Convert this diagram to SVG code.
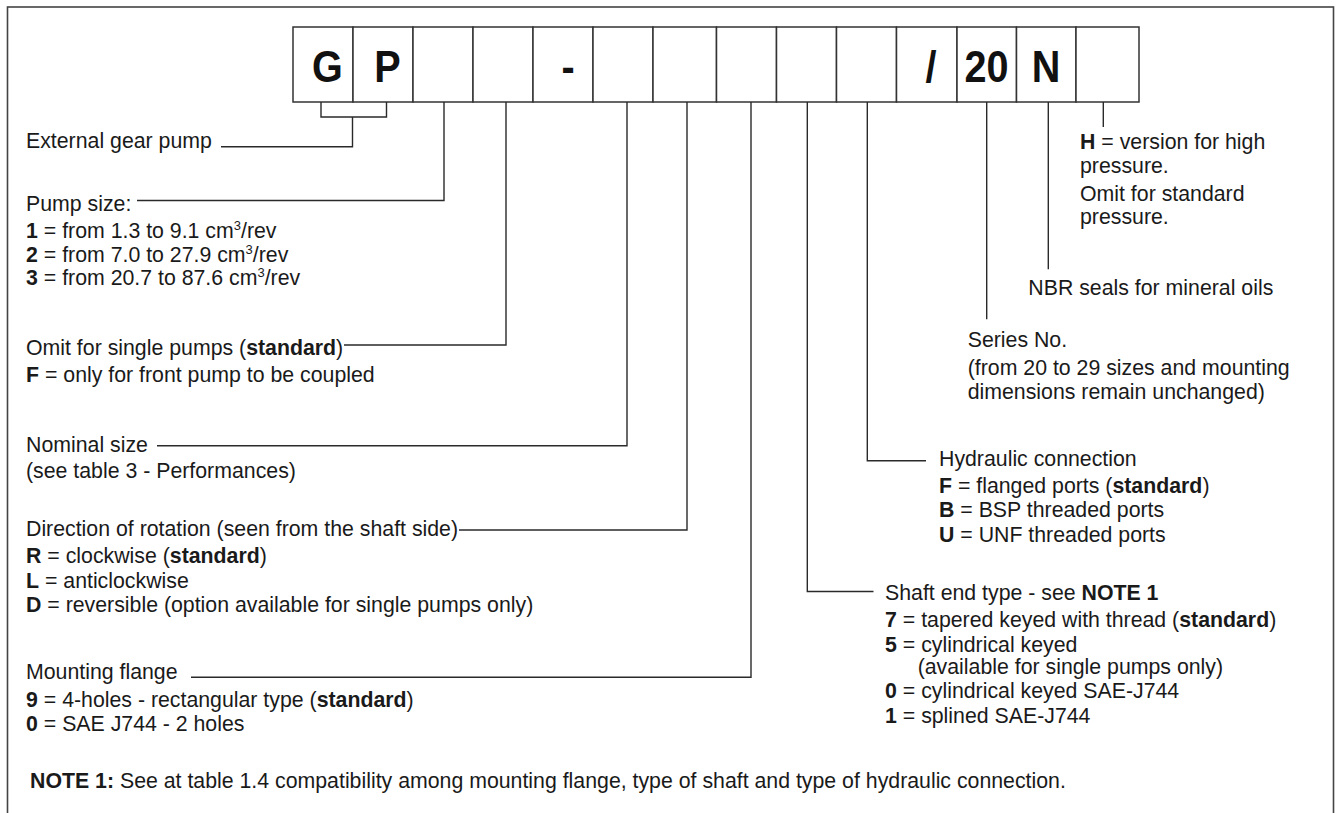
<svg xmlns="http://www.w3.org/2000/svg" width="1344" height="813" viewBox="0 0 1344 813">
<style>
.t{font-family:"Liberation Sans",Arial,sans-serif;font-size:21.3px;fill:#1a1a1a}
.b{font-weight:bold}
.big{font-family:"Liberation Sans",Arial,sans-serif;font-size:44px;font-weight:bold;fill:#111;text-anchor:middle}
.box{fill:#fff;stroke:#333;stroke-width:1.5}
.ln{fill:none;stroke:#2a2a2a;stroke-width:1.4}
.sup{font-size:13px}
</style>
<rect width="1344" height="813" fill="#fff"/>
<rect x="7.5" y="7" width="1326" height="840" fill="none" stroke="#444" stroke-width="1.6"/>

<g id="code">
<rect class="box" x="293" y="27" width="60" height="75"/>
<rect class="box" x="353" y="27" width="60" height="75"/>
<rect class="box" x="413" y="27" width="60" height="75"/>
<rect class="box" x="473" y="27" width="60" height="75"/>
<rect class="box" x="533" y="27" width="60" height="75"/>
<rect class="box" x="593" y="27" width="60" height="75"/>
<rect class="box" x="653" y="27" width="63.5" height="75"/>
<rect class="box" x="716.5" y="27" width="60" height="75"/>
<rect class="box" x="776.5" y="27" width="60" height="75"/>
<rect class="box" x="836.5" y="27" width="60" height="75"/>
<rect class="box" x="896.5" y="27" width="60.5" height="75"/>
<rect class="box" x="957" y="27" width="59.5" height="75"/>
<rect class="box" x="1016.5" y="27" width="59.5" height="75"/>
<rect class="box" x="1076" y="27" width="63" height="75"/>
<text class="big" transform="translate(327.5,82) scale(0.9,1)">G</text>
<text class="big" transform="translate(387.5,82) scale(0.9,1)">P</text>
<text class="big" transform="translate(568,82) scale(0.9,1)">-</text>
<text class="big" transform="translate(931,82) scale(0.9,1)">/</text>
<text class="big" transform="translate(986.5,82) scale(0.9,1)">20</text>
<text class="big" transform="translate(1046,82) scale(0.9,1)">N</text>
</g>

<g id="connectors">
<path class="ln" d="M321,102 V117 H386.5 V102 M352.5,117 V146.7 H221"/>
<path class="ln" d="M444,102 V200.5 H137"/>
<path class="ln" d="M506,102 V345 H344"/>
<path class="ln" d="M627,102 V445.7 H157"/>
<path class="ln" d="M687,102 V530 H459"/>
<path class="ln" d="M751,102 V677.3 H191"/>
<path class="ln" d="M807.3,102 V591.5 H873.5"/>
<path class="ln" d="M867.3,102 V460.7 H926"/>
<path class="ln" d="M986.7,102 V319.3"/>
<path class="ln" d="M1048.3,102 V269.3"/>
<path class="ln" d="M1103.3,102 V127"/>
</g>

<g id="external-gear-pump">
<text class="t" x="26" y="148.3">External gear pump</text>
</g>

<g id="pump-size">
<text class="t" x="26" y="210.7">Pump size:</text>
<text class="t" x="26" y="238.3"><tspan class="b">1</tspan> = from 1.3 to 9.1 cm<tspan class="sup" dy="-8">3</tspan><tspan dy="8">/rev</tspan></text>
<text class="t" x="26" y="261.7"><tspan class="b">2</tspan> = from 7.0 to 27.9 cm<tspan class="sup" dy="-8">3</tspan><tspan dy="8">/rev</tspan></text>
<text class="t" x="26" y="285"><tspan class="b">3</tspan> = from 20.7 to 87.6 cm<tspan class="sup" dy="-8">3</tspan><tspan dy="8">/rev</tspan></text>
</g>

<g id="single-pumps">
<text class="t" x="26" y="355">Omit for single pumps (<tspan class="b">standard</tspan>)</text>
<text class="t" x="26" y="381.7"><tspan class="b">F</tspan> = only for front pump to be coupled</text>
</g>

<g id="nominal-size">
<text class="t" x="26" y="451.7">Nominal size</text>
<text class="t" x="26" y="478.3">(see table 3 - Performances)</text>
</g>

<g id="direction">
<text class="t" x="26" y="536">Direction of rotation (seen from the shaft side)</text>
<text class="t" x="26" y="563"><tspan class="b">R</tspan> = clockwise (<tspan class="b">standard</tspan>)</text>
<text class="t" x="26" y="588"><tspan class="b">L</tspan> = anticlockwise</text>
<text class="t" x="26" y="612"><tspan class="b">D</tspan> = reversible (option available for single pumps only)</text>
</g>

<g id="mounting-flange">
<text class="t" x="26" y="679.3">Mounting flange</text>
<text class="t" x="26" y="707"><tspan class="b">9</tspan> = 4-holes - rectangular type (<tspan class="b">standard</tspan>)</text>
<text class="t" x="26" y="731"><tspan class="b">0</tspan> = SAE J744 - 2 holes</text>
</g>

<g id="note">
<text class="t" x="30" y="788"><tspan class="b">NOTE 1:</tspan> See at table 1.4 compatibility among mounting flange, type of shaft and type of hydraulic connection.</text>
</g>

<g id="high-pressure">
<text class="t" x="1080" y="149.3"><tspan class="b">H</tspan> = version for high</text>
<text class="t" x="1080" y="172.7">pressure.</text>
<text class="t" x="1080" y="200.7">Omit for standard</text>
<text class="t" x="1080" y="224">pressure.</text>
</g>

<g id="seals">
<text class="t" x="1028.3" y="295">NBR seals for mineral oils</text>
</g>

<g id="series">
<text class="t" x="967.7" y="347.3">Series No.</text>
<text class="t" x="967.7" y="375">(from 20 to 29 sizes and mounting</text>
<text class="t" x="967.7" y="399">dimensions remain unchanged)</text>
</g>

<g id="hydraulic">
<text class="t" x="939" y="466">Hydraulic connection</text>
<text class="t" x="939" y="493.3"><tspan class="b">F</tspan> = flanged ports (<tspan class="b">standard</tspan>)</text>
<text class="t" x="939" y="517.3"><tspan class="b">B</tspan> = BSP threaded ports</text>
<text class="t" x="939" y="541.7"><tspan class="b">U</tspan> = UNF threaded ports</text>
</g>

<g id="shaft">
<text class="t" x="885" y="600">Shaft end type - see <tspan class="b">NOTE 1</tspan></text>
<text class="t" x="885" y="626.7"><tspan class="b">7</tspan> = tapered keyed with thread (<tspan class="b">standard</tspan>)</text>
<text class="t" x="885" y="651.7"><tspan class="b">5</tspan> = cylindrical keyed</text>
<text class="t" x="917.7" y="674">(available for single pumps only)</text>
<text class="t" x="885" y="698.3"><tspan class="b">0</tspan> = cylindrical keyed SAE-J744</text>
<text class="t" x="885" y="723.3"><tspan class="b">1</tspan> = splined SAE-J744</text>
</g>
</svg>
